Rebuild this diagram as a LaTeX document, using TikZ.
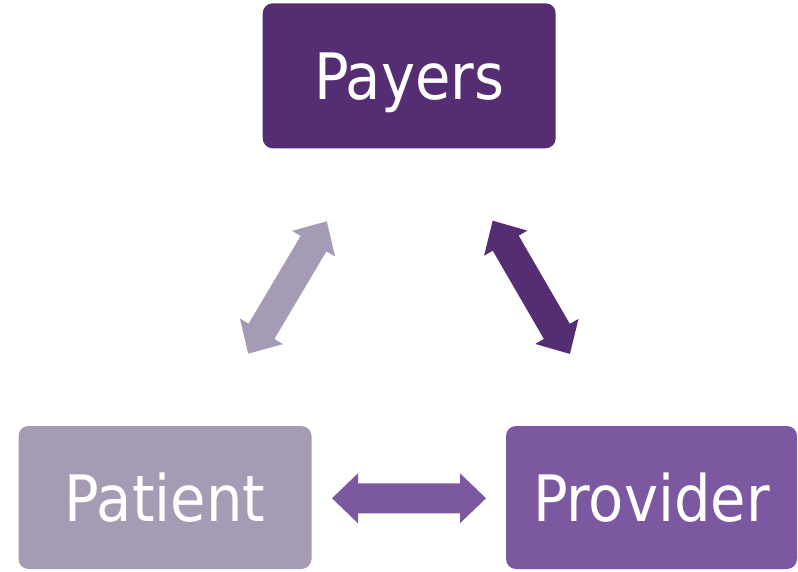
\documentclass[tikz,border=0pt]{standalone}
\usepackage{fontspec}
\setmainfont{DejaVu Sans Condensed}
\definecolor{cPayer}{RGB}{84,45,114}
\definecolor{cPatient}{RGB}{165,155,180}
\definecolor{cProvider}{RGB}{123,88,160}
\tikzset{
  box/.style={rectangle, rounded corners=10pt, inner sep=0pt, text=white,
    font=\fontsize{64}{70}\selectfont, text height=47pt, text depth=0pt},
  dblarrow/.pic={\fill (-77,0) -- (-51,25) -- (-51,15) -- (51,15) -- (51,25)
     -- (77,0) -- (51,-25) -- (51,-15) -- (-51,-15) -- (-51,-25) -- cycle;}
}
\begin{document}
\begin{tikzpicture}[x=1pt,y=1pt]
\useasboundingbox (0,0) rectangle (798,571);
\node[box, fill=cPayer, minimum width=293pt, minimum height=145pt] (payers) at (409.2,495.2) {Payers};
\node[box, fill=cPatient, minimum width=293pt, minimum height=143pt] (patient) at (165,73.5) {Patient};
\node[box, fill=cProvider, minimum width=291pt, minimum height=143pt] (provider) at (651.5,73.5) {Provider};
\coordinate (aleft) at (287.5,283.5);
\coordinate (aright) at (531.3,283.7);
\coordinate (abottom) at (409,72.7);
\pic[fill=cPatient, rotate=59.3] at (aleft) {dblarrow};
\pic[fill=cPayer, rotate=120.1] at (aright) {dblarrow};
\pic[fill=cProvider] at (abottom) {dblarrow};
\end{tikzpicture}
\end{document}
